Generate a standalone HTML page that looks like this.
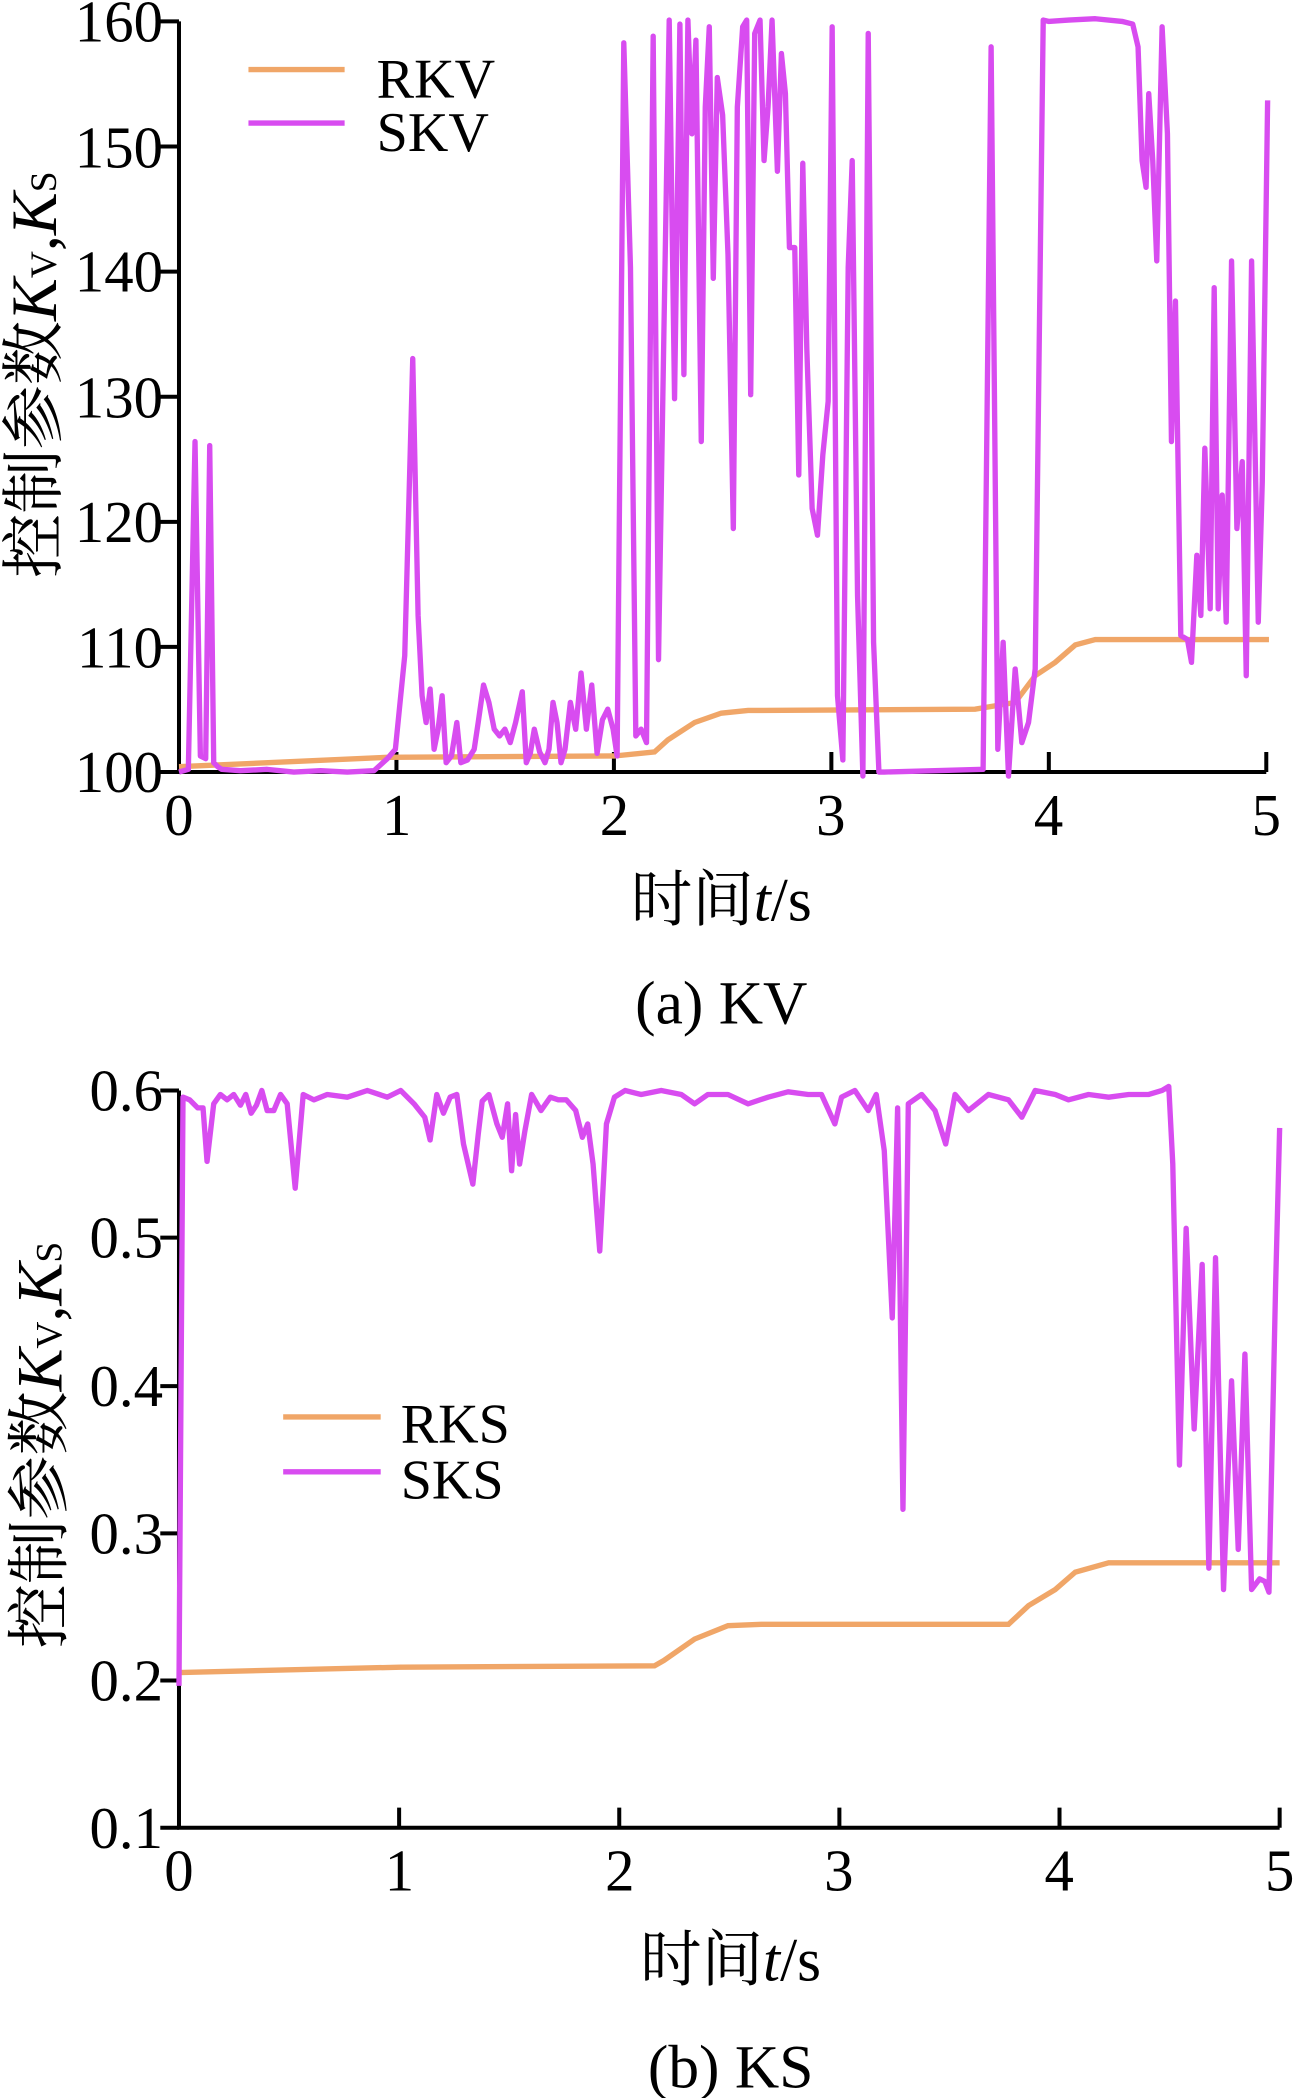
<!DOCTYPE html>
<html><head><meta charset="utf-8"><style>
html,body{margin:0;padding:0;background:#fff}
svg{display:block}
text{font-family:"Liberation Serif","Noto Serif CJK SC",serif;fill:#000}
</style></head><body>
<svg width="1293" height="2098" viewBox="0 0 968 1568" preserveAspectRatio="none" xmlns="http://www.w3.org/2000/svg">
<!-- Chart 1 -->
<g stroke="#000" stroke-width="3" fill="none">
<path d="M134,16V577H948"/>
<path d="M120,16H134M120,109.5H134M120,203H134M120,296.5H134M120,390H134M120,483.5H134M120,577H134"/>
<path d="M296.8,577V562M459.6,577V562M622.4,577V562M785.2,577V562M948,577V562"/>
</g>
<g font-size="44" text-anchor="end">
<text x="122" y="31">160</text><text x="122" y="125">150</text><text x="122" y="218">140</text><text x="122" y="312">130</text><text x="122" y="405">120</text><text x="122" y="499">110</text><text x="122" y="592">100</text>
</g>
<g font-size="44" text-anchor="middle">
<text x="134" y="624">0</text><text x="297" y="624">1</text><text x="460" y="624">2</text><text x="622" y="624">3</text><text x="785" y="624">4</text><text x="948" y="624">5</text>
</g>
<polyline fill="none" stroke="#f0a668" stroke-width="4" points="134,573 290,566 460,565 490,562 500,553 520,540 540,533 560,531 730,530 760,525 775,505 790,495 805,482 820,478 950,478"/>
<polyline fill="none" stroke="#d84cf0" stroke-width="4" stroke-linejoin="round" points="134,577 141,575 146,330 150,565 154,567 157,333 160,570 163,573 166,575 180,576 200,575 220,577 240,576 260,577 280,576 290,567 296,560 303,490 309,268 313,460 316,520 319,540 322,515 325,560 328,545 331,520 334,570 338,565 342,540 345,570 350,568 355,560 358,540 362,512 366,525 370,545 374,550 378,545 382,555 386,540 391,517 394,570 397,563 400,545 404,562 408,570 411,560 414,525 417,540 420,570 423,560 427,525 431,545 435,503 439,545 443,512 447,563 451,538 455,530 459,545 462,565 467,32 472,200 476,550 480,545 484,555 489,27 493,493 497,250 501,15 505,298 509,18 512,280 515,15 518,100 521,30 525,330 528,80 531,20 534,208 537,58 541,86 545,190 549,395 552,80 556,20 559,15 562,295 565,25 569,15 572,120 575,80 578,15 582,128 585,40 588,70 591,185 595,185 598,355 601,122 604,260 608,380 612,400 616,340 620,300 623,20 627,520 631,568 635,200 638,120 642,445 646,580 650,25 654,480 658,577 662,577 700,576 736,575 742,35 747,560 751,480 755,580 760,500 765,555 770,540 775,500 781,15 785,16 800,15 820,14 840,16 848,18 852,35 855,120 858,140 860,70 863,120 866,195 870,20 874,100 877,330 880,225 884,475 889,478 892,495 896,415 899,460 902,335 906,455 909,215 912,455 915,370 918,465 922,195 926,395 930,345 933,505 937,195 942,465 945,360 949,75"/>
<line x1="186" y1="52" x2="258" y2="52" stroke="#f0a668" stroke-width="4"/>
<line x1="186" y1="92" x2="258" y2="92" stroke="#d84cf0" stroke-width="4"/>
<g font-size="42"><text x="282" y="73">RKV</text><text x="282" y="113">SKV</text></g>
<text x="540" y="688" font-size="46" text-anchor="middle">时间<tspan font-style="italic">t</tspan>/s</text>
<text x="540" y="765" font-size="46" text-anchor="middle">(a) KV</text>
<text transform="translate(42,280) rotate(-90)" font-size="48" text-anchor="middle">控制参数<tspan font-style="italic">K</tspan><tspan font-size="28">V</tspan>,<tspan font-style="italic">K</tspan><tspan font-size="28">S</tspan></text>

<!-- Chart 2 -->
<g stroke="#000" stroke-width="3" fill="none">
<path d="M134,815V1366H958"/>
<path d="M120,815H134M120,925H134M120,1036H134M120,1146H134M120,1256H134M120,1366H134"/>
<path d="M298.8,1366V1351M463.6,1366V1351M628.4,1366V1351M793.2,1366V1351M958,1366V1351"/>
</g>
<g font-size="44" text-anchor="end">
<text x="122" y="830">0.6</text><text x="122" y="940">0.5</text><text x="122" y="1051">0.4</text><text x="122" y="1161">0.3</text><text x="122" y="1271">0.2</text><text x="122" y="1381">0.1</text>
</g>
<g font-size="44" text-anchor="middle">
<text x="134" y="1413">0</text><text x="299" y="1413">1</text><text x="464" y="1413">2</text><text x="628" y="1413">3</text><text x="793" y="1413">4</text><text x="958" y="1413">5</text>
</g>
<polyline fill="none" stroke="#f0a668" stroke-width="4" points="134,1250 300,1246 490,1245 497,1241 520,1225 545,1215 570,1214 755,1214 770,1200 790,1188 805,1175 830,1168 958,1168"/>
<polyline fill="none" stroke="#d84cf0" stroke-width="4" stroke-linejoin="round" points="134,1260 137,820 142,822 148,828 152,828 155,868 160,825 165,818 170,822 175,818 180,826 184,818 188,832 192,826 196,815 200,830 205,830 210,818 215,825 221,888 227,818 235,822 245,818 260,820 275,815 290,820 300,815 310,825 318,835 322,852 327,818 332,832 337,820 342,818 347,855 354,885 358,848 361,823 366,818 372,840 376,850 380,825 383,875 386,833 389,870 393,845 398,818 405,830 412,820 418,822 424,822 431,830 436,850 440,840 444,870 449,935 454,840 460,820 468,815 480,818 495,815 510,818 520,825 530,818 545,818 560,825 575,820 590,816 605,818 615,818 625,840 630,820 640,815 650,830 656,818 662,860 668,985 672,828 676,1128 680,825 690,818 700,830 708,855 715,818 725,830 740,818 755,822 765,835 775,815 790,818 800,822 815,818 830,820 845,818 860,818 870,815 875,812 878,870 883,1095 888,918 894,1068 900,945 905,1172 910,940 916,1188 922,1032 927,1158 932,1012 937,1188 943,1180 947,1182 950,1190 955,960 958,843"/>
<line x1="212" y1="1059" x2="285" y2="1059" stroke="#f0a668" stroke-width="4"/>
<line x1="212" y1="1100" x2="285" y2="1100" stroke="#d84cf0" stroke-width="4"/>
<g font-size="42"><text x="300" y="1078">RKS</text><text x="300" y="1120">SKS</text></g>
<text x="547" y="1480" font-size="46" text-anchor="middle">时间<tspan font-style="italic">t</tspan>/s</text>
<text x="547" y="1560" font-size="46" text-anchor="middle">(b) KS</text>
<text transform="translate(46,1080) rotate(-90)" font-size="48" text-anchor="middle">控制参数<tspan font-style="italic">K</tspan><tspan font-size="28">V</tspan>,<tspan font-style="italic">K</tspan><tspan font-size="28">S</tspan></text>
</svg>
</body></html>
